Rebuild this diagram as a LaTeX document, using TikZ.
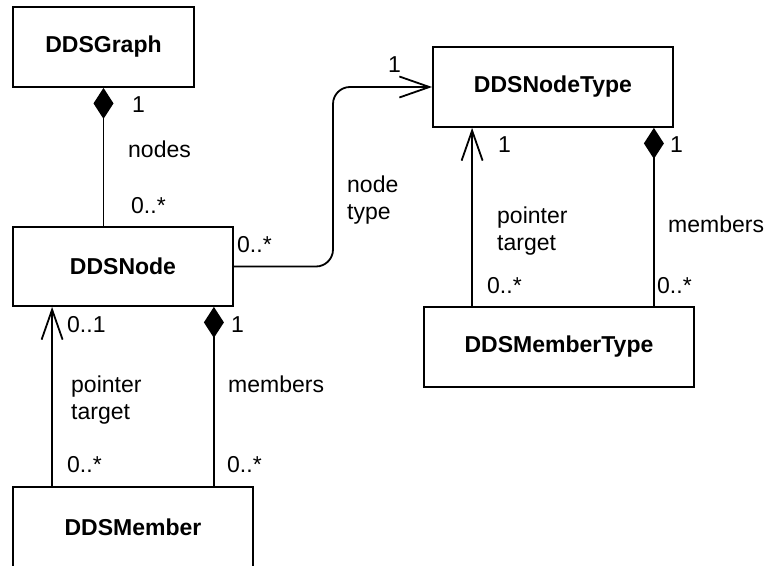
\documentclass[tikz,border=0pt]{standalone}
\usepackage{fontspec}
\setmainfont{Liberation Sans}
\usetikzlibrary{arrows.meta}
\begin{document}
\begin{tikzpicture}[x=1pt,y=-1pt,
  cls/.style={draw, line width=1.8pt, inner sep=0pt,
    font=\fontsize{23}{27}\selectfont\bfseries},
  lbl/.style={anchor=base west, inner sep=0pt,
    font=\fontsize{23}{27}\selectfont},
  link/.style={line width=1.8pt},
  navig/.style={link, -{Straight Barb[length=30pt,width=21pt]}},
  compos/.style={link, {Diamond[length=31pt,width=20pt]}-}]
\useasboundingbox (0,0) rectangle (768,565);
\clip (0,0) rectangle (768,565);

% classes
\node[cls, minimum width=181pt, minimum height=80pt] (graph)  at (103.5,47)  {DDSGraph};
\node[cls, minimum width=220pt, minimum height=79pt] (ddsnode) at (123,266.5) {DDSNode};
\node[cls, minimum width=240pt, minimum height=80pt] (ntype)  at (553,87)    {DDSNodeType};
\node[cls, minimum width=270pt, minimum height=80pt] (mtype)  at (559,347)   {DDSMemberType};
\node[cls, minimum width=240pt, minimum height=80pt] (member) at (133,527)   {DDSMember};

% graph owns its nodes
\draw[compos] (graph.south) -- (graph.south |- ddsnode.north);

% node -> node type
\coordinate (bend) at (333,87);
\draw[navig, rounded corners=17pt] (ddsnode.east) -| (bend) -- (ntype.west);

% member type -> node type (pointer target)
\coordinate (ptA) at ([xshift=40pt]ntype.south west);
\draw[navig] (ptA |- mtype.north) -- (ptA);

% node type owns member types
\coordinate (pmB) at ([xshift=-20pt]ntype.south east);
\draw[compos] (pmB) -- (pmB |- mtype.north);

% member -> node (pointer target)
\coordinate (ptC) at ([xshift=40pt]member.north west);
\draw[navig] (ptC) -- (ptC |- ddsnode.south);

% node owns members
\coordinate (pmD) at ([xshift=-20pt]ddsnode.south east);
\draw[compos] (pmD) -- (pmD |- member.north);

% role names and multiplicities
\node[lbl] (gm1)   at (132,112) {1};
\node[lbl] (gname) at (128,157) {nodes};
\node[lbl] (gm2)   at (131,213) {0..*};

\node[lbl] (tm1)   at (237,252) {0..*};
\node[lbl] (tm2)   at (388,72)  {1};
\node[lbl] (tn1)   at (347,192) {node};
\node[lbl] (tn2)   at (347,219) {type};

\node[lbl] (pm1)   at (498,152) {1};
\node[lbl] (pn1)   at (497,223) {pointer};
\node[lbl] (pn2)   at (497,250) {target};
\node[lbl] (pm2)   at (487,293) {0..*};

\node[lbl] (mm1)   at (670,152) {1};
\node[lbl] (mn1)   at (668,232) {members};
\node[lbl] (mm2)   at (657,293) {0..*};

\node[lbl] (qm1)   at (67,332)  {0..1};
\node[lbl] (qn1)   at (71,392)  {pointer};
\node[lbl] (qn2)   at (71,419)  {target};
\node[lbl] (qm2)   at (67,472)  {0..*};

\node[lbl] (rm1)   at (231,332) {1};
\node[lbl] (rn1)   at (228,392) {members};
\node[lbl] (rm2)   at (227,472) {0..*};
\end{tikzpicture}
\end{document}
